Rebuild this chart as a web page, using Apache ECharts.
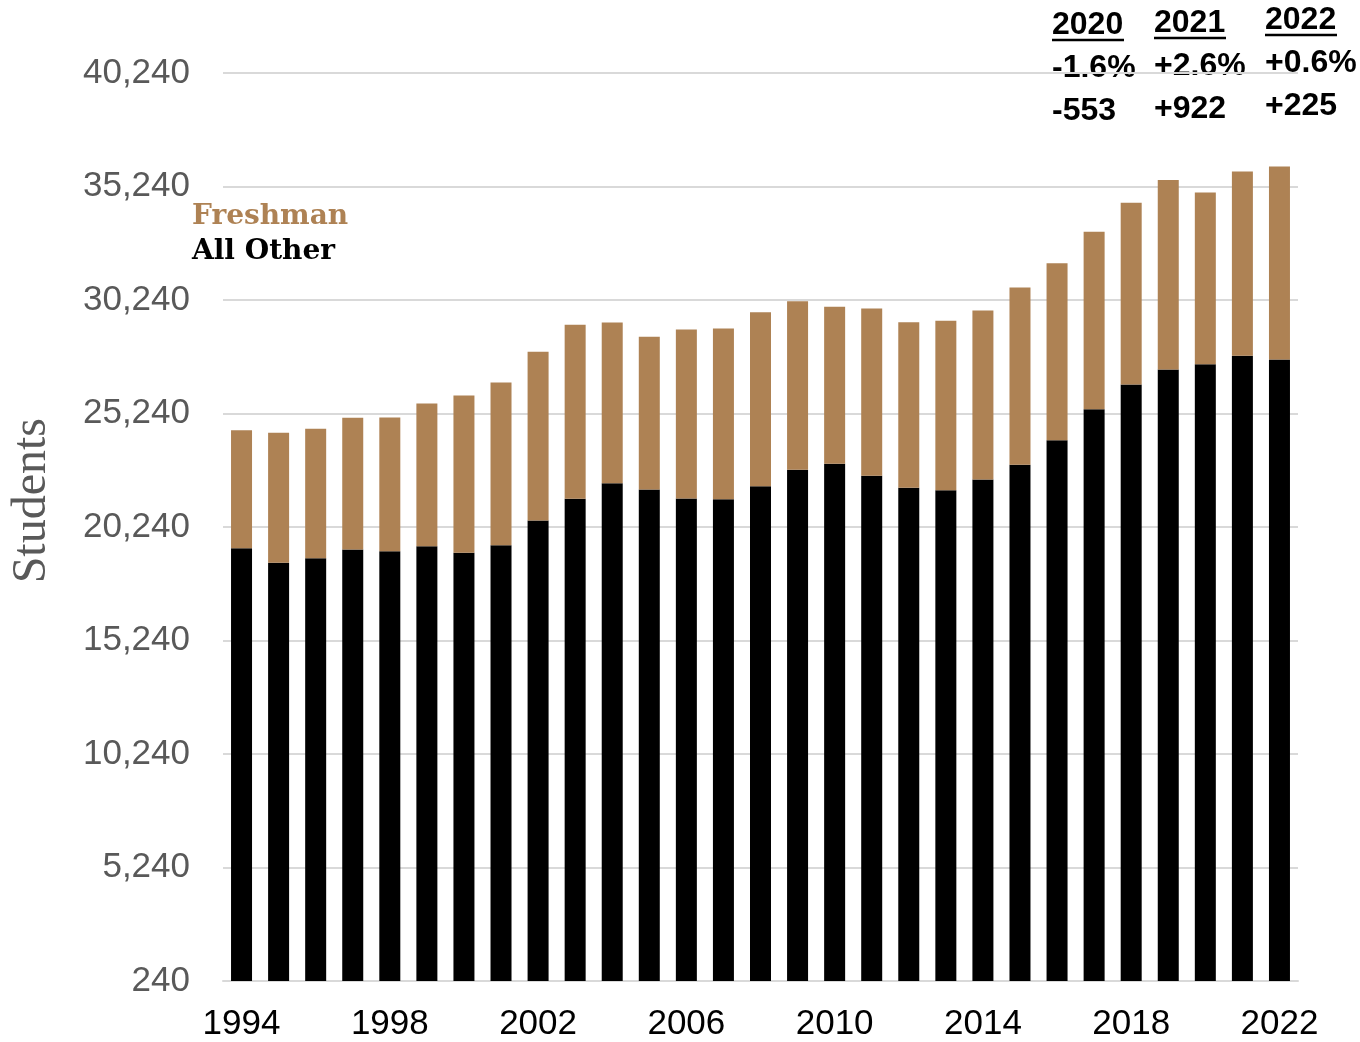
<!DOCTYPE html>
<html>
<head>
<meta charset="utf-8">
<script src="https://cdn.jsdelivr.net/npm/echarts@6/dist/echarts.min.js"></script>
<style>
  html, body { margin: 0; padding: 0; background: #fff; }
  #chart { width: 1360px; height: 1042px; }
</style>
</head>
<body>
<div id="chart"></div>
<script>
// 学生人数堆叠柱状图:下层 All Other,上层 Freshman
const years = ["1994","1995","1996","1997","1998","1999","2000","2001","2002","2003",
  "2004","2005","2006","2007","2008","2009","2010","2011","2012","2013",
  "2014","2015","2016","2017","2018","2019","2020","2021","2022"];
const allOther = [19305,18662,18864,19248,19173,19393,19102,19437,20525,21481,
  22168,21891,21494,21463,22036,22758,23023,22494,21966,21860,
  22331,22979,24062,25428,26516,27177,27410,27780,27617];
const freshman = [5198,5726,5701,5801,5889,6286,6929,7167,7431,7665,
  7079,6726,7445,7520,7665,7428,6916,7370,7294,7462,
  7445,7810,7797,7814,8004,8353,7567,8119,8507];
const yMin = 240, yMax = 40240, yStep = 5000;
const notes = [
  { year: "2020", pct: "-1.6%", diff: "-553" },
  { year: "2021", pct: "+2.6%", diff: "+922" },
  { year: "2022", pct: "+0.6%", diff: "+225" },
];

const brown = "#ae8254";
const gray = "#595959";

// 右上角注释:三列,年份带下划线
const noteX = [1052, 1154, 1265];
const noteDy = [0, -2, -5];
const graphics = [];
notes.forEach((n, i) => {
  const x = noteX[i], dy = noteDy[i];
  const font = { fontFamily: "Liberation Sans", fontWeight: "bold", fontSize: 32, fill: "#000" };
  graphics.push({ type: "text", left: x, top: 9 + dy, style: Object.assign({ text: n.year }, font) });
  graphics.push({ type: "line", shape: { x1: x, y1: 40 + dy, x2: x + 72, y2: 40 + dy },
    style: { stroke: "#000", lineWidth: 2.5 } });
  graphics.push({ type: "text", left: x, top: 52 + dy, style: Object.assign({ text: n.pct }, font) });
  graphics.push({ type: "text", left: x, top: 95 + dy, style: Object.assign({ text: n.diff }, font) });
});
// 纵轴标题
graphics.push({
  type: "text", left: 8, top: 418, rotation: Math.PI / 2,
  style: { text: "Students", fontFamily: "Liberation Serif", fontSize: 48, fill: gray }
});

const chart = echarts.init(document.getElementById("chart"));
chart.setOption({
  animation: false,
  grid: { left: 223, right: 62, top: 73, bottom: 61, outerBoundsMode: "none" },
  legend: {
    orient: "vertical", left: 182, top: 198, itemWidth: 0, itemHeight: 0, itemGap: 7,
    icon: "rect", selectedMode: false,
    textStyle: { fontFamily: "DejaVu Serif", fontWeight: "bold", fontSize: 28 },
    data: [
      { name: "Freshman", textStyle: { color: brown } },
      { name: "All Other", textStyle: { color: "#000" } },
    ],
  },
  xAxis: {
    type: "category", data: years,
    axisLine: { lineStyle: { color: "#d9d9d9", width: 2 } },
    axisTick: { show: false },
    axisLabel: { interval: 3, margin: 26, color: "#000", fontSize: 35, fontFamily: "Liberation Sans" },
  },
  yAxis: {
    type: "value", min: yMin, max: yMax, interval: yStep,
    axisLine: { show: false }, axisTick: { show: false },
    splitLine: { lineStyle: { color: "#d9d9d9", width: 2 } },
    axisLabel: {
      margin: 33, color: gray, fontSize: 35, fontFamily: "Liberation Sans",
      formatter: v => v.toLocaleString("en-US"),
    },
  },
  series: [
    { name: "All Other", type: "bar", stack: "s", data: allOther, barWidth: 21,
      itemStyle: { color: "#000" } },
    { name: "Freshman", type: "bar", stack: "s", data: freshman, barWidth: 21,
      itemStyle: { color: brown } },
  ],
  graphic: graphics,
});
</script>
</body>
</html>
